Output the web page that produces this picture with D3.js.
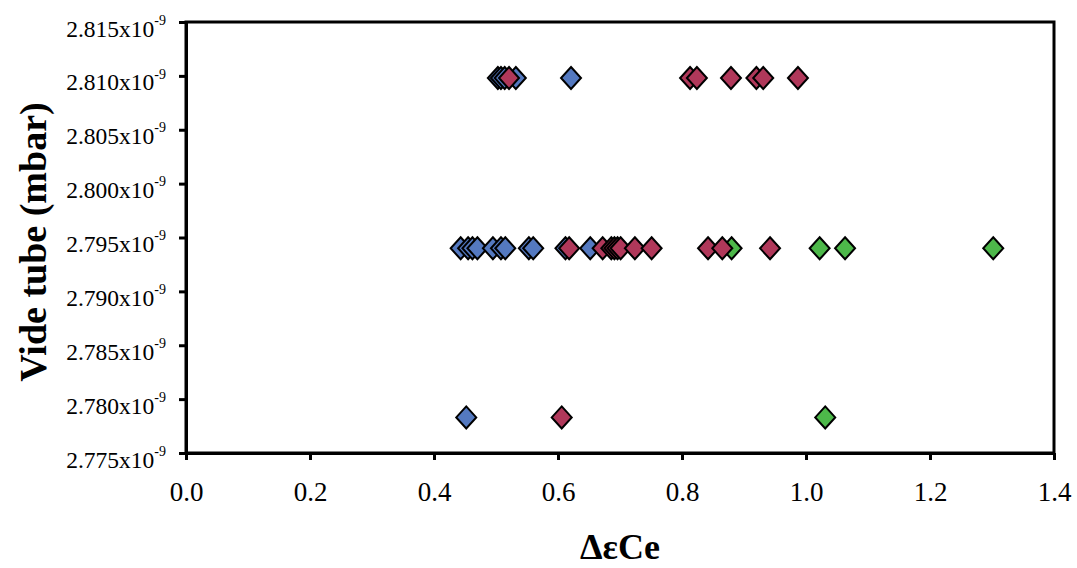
<!DOCTYPE html>
<html><head><meta charset="utf-8">
<script src="https://cdn.jsdelivr.net/npm/d3@7"></script>
<style>body{margin:0;background:#fff}svg{display:block}</style>
</head><body>
<script>
// y levels (x10^-9 mbar)
const yTickLabels = ["2.775","2.780","2.785","2.790","2.795","2.800","2.805","2.810","2.815"];
const xTickLabels = ["0.0","0.2","0.4","0.6","0.8","1.0","1.2","1.4"];

const blueX = [0.452, 0.443,0.455,0.462,0.470,0.495,0.508,0.515,0.553,0.560,0.612,0.652, 0.503,0.508,0.514,0.532,0.621];
const blueY = [2.7783, 2.7940,2.7940,2.7940,2.7940,2.7940,2.7940,2.7940,2.7940,2.7940,2.7940,2.7940, 2.8098,2.8098,2.8098,2.8098,2.8098];

const greenX = [1.031, 0.880,1.022,1.063,1.302];
const greenY = [2.7783, 2.7940,2.7940,2.7940,2.7940];

const redX = [0.606, 0.618,0.672,0.686,0.691,0.696,0.701,0.724,0.751,0.842,0.865,0.942, 0.521,0.813,0.824,0.879,0.920,0.931,0.987];
const redY = [2.7783, 2.7940,2.7940,2.7940,2.7940,2.7940,2.7940,2.7940,2.7940,2.7940,2.7940,2.7940, 2.8098,2.8098,2.8098,2.8098,2.8098,2.8098,2.8098];

(function() {
const W = 1077, H = 568;
const svg = d3.select("body").append("svg").attr("width", W).attr("height", H);
const pL = 186, pR = 1054, pT = 22, pB = 453;
const x = d3.scaleLinear().domain([0, 1.4]).range([pL, pR]);
const y = d3.scaleLinear().domain([2.775, 2.815]).range([pB, pT]);
const serif = "'Liberation Serif','Times New Roman',serif";

// frame
svg.append("rect").attr("x", pL).attr("y", pT).attr("width", pR-pL).attr("height", pB-pT)
  .attr("fill", "none").attr("stroke", "#000").attr("stroke-width", 3);

// x axis
const xAxis = d3.axisBottom(x).tickValues(xTickLabels.map(Number)).tickSize(7).tickSizeOuter(0)
  .tickFormat((d,i) => xTickLabels[i]);
const gx = svg.append("g").attr("transform", `translate(0,${pB})`).call(xAxis);
gx.select(".domain").attr("stroke-width", 3);
gx.selectAll(".tick line").attr("stroke-width", 3);
gx.selectAll(".tick text").attr("font-family", serif).attr("font-size", 27).attr("fill", "#000").attr("dy", "1.4em");

// y axis
const yAxis = d3.axisLeft(y).tickValues(yTickLabels.map(Number)).tickSize(7).tickSizeOuter(0).tickFormat(() => "");
const gy = svg.append("g").attr("transform", `translate(${pL},0)`).call(yAxis);
gy.select(".domain").attr("stroke-width", 3);
gy.selectAll(".tick line").attr("stroke-width", 3);
gy.selectAll(".tick text").each(function(d, i) {
  const t = d3.select(this).attr("font-family", serif).attr("font-size", 23.5).attr("fill", "#000")
    .attr("x", -20).attr("dy", "0.6em").attr("text-anchor", "end");
  t.append("tspan").text(yTickLabels[i] + "x10");
  t.append("tspan").attr("font-size", 14).attr("dy", "-0.85em").text("-9");
});

// markers
const diamond = "M0,-11L10,0L0,11L-10,0Z";
function series(xs, ys, color) {
  svg.append("g").selectAll("path").data(xs).join("path")
    .attr("d", diamond)
    .attr("transform", (d, i) => `translate(${x(d)},${y(ys[i])})`)
    .attr("fill", color).attr("stroke", "#000").attr("stroke-width", 2);
}
series(blueX, blueY, "#5479C0");
series(greenX, greenY, "#4DB84A");
series(redX, redY, "#B0385A");

// axis titles
svg.append("text").attr("x", 620).attr("y", 559).attr("text-anchor", "middle")
  .attr("font-family", serif).attr("font-weight", "bold").attr("font-size", 36).text("ΔεCe");
svg.append("text").attr("transform", `translate(46,242) rotate(-90)`).attr("text-anchor", "middle")
  .attr("font-family", serif).attr("font-weight", "bold").attr("font-size", 38).text("Vide tube (mbar)");
})();
</script>
</body></html>
